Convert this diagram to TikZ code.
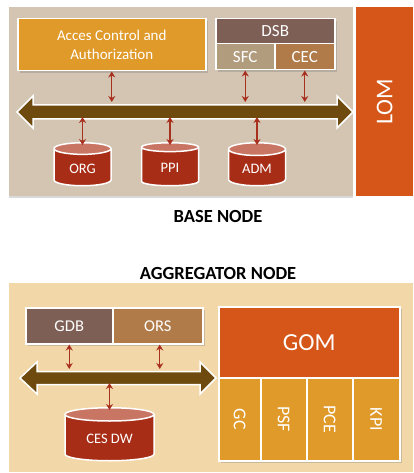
\documentclass[tikz,border=0pt]{standalone}
\usepackage{fontspec}
\setmainfont{Carlito}
\usetikzlibrary{arrows.meta,shapes.geometric,shadows}

\definecolor{topbg}{RGB}{211,197,178}
\definecolor{botbg}{RGB}{242,215,168}
\definecolor{rust}{RGB}{213,86,24}
\definecolor{amber}{RGB}{224,154,42}
\definecolor{mauve}{RGB}{125,95,85}
\definecolor{sand}{RGB}{178,156,126}
\definecolor{copper}{RGB}{176,123,72}
\definecolor{busbrown}{RGB}{110,74,14}
\definecolor{linkred}{RGB}{168,48,30}
\definecolor{cylbody}{RGB}{168,45,22}
\definecolor{cyltop}{RGB}{201,117,100}

\begin{document}
\begin{tikzpicture}[x=1pt,y=-1pt,
        box/.style={draw=white,line width=1.5pt,text=white,inner sep=0pt,anchor=north west,
            drop shadow={opacity=.35,shadow xshift=2pt,shadow yshift=-2pt}},
        panel/.style={inner sep=0pt,anchor=north west},
        link/.style={{Stealth[length=6pt,width=7pt]}-{Stealth[length=6pt,width=7pt]},draw=linkred,line width=1.3pt},
        db/.style={cylinder,shape border rotate=90,draw=white,line width=1.5pt,text=white,
            cylinder uses custom fill,cylinder body fill=cylbody,cylinder end fill=cyltop,anchor=north},
        title/.style={font=\fontsize{18.5}{20}\bfseries\selectfont}]
    \useasboundingbox (0,0) rectangle (413,473);
    % base node
    \node[panel,fill=topbg,minimum width=344pt,minimum height=189pt,
        drop shadow={opacity=.3,shadow xshift=0pt,shadow yshift=-2pt}] (base) at (9,7) {};
    \node[panel,fill=rust,minimum width=57pt,minimum height=189pt,text=white,
        font=\fontsize{24}{26}\selectfont] (lom) at (356,7) {\rotatebox{90}{LOM}};
    \node[box,fill=amber,minimum width=188pt,minimum height=52pt,align=center,
        font=\fontsize{15}{19}\selectfont] (acc) at (17,18) {Acces Control and\\Authorization};
    \node[box,fill=mauve,minimum width=119pt,minimum height=25pt,font=\fontsize{17}{18}\selectfont] (dsb) at (215,18) {DSB};
    \node[box,fill=sand,minimum width=59pt,minimum height=26pt,font=\fontsize{17}{18}\selectfont] (sfc) at (215,43) {SFC};
    \node[box,fill=copper,minimum width=60pt,minimum height=26pt,font=\fontsize{17}{18}\selectfont] (cec) at (274,43) {CEC};
    \draw[fill=busbrown,draw=white,line width=1.5pt] (17,112) -- (33,96) -- (33,105) -- (337,105) -- (337,96)
        -- (353,112) -- (337,128) -- (337,119) -- (33,119) -- (33,128) -- cycle;
    \coordinate (bustopA) at (0,102);
    \coordinate (busbotA) at (0,117);
    \node[db,aspect=0.35,minimum width=57pt,minimum height=43pt,font=\fontsize{14.5}{16}\selectfont] (org) at (82.5,142) {ORG};
    \node[db,aspect=0.35,minimum width=57pt,minimum height=43pt,font=\fontsize{14.5}{16}\selectfont] (ppi) at (170,142) {PPI};
    \node[db,aspect=0.35,minimum width=57pt,minimum height=43pt,font=\fontsize{14.5}{16}\selectfont] (adm) at (257,142) {ADM};
    \draw[link] (acc.south) -- (acc.south |- bustopA);
    \draw[link] (sfc.south) -- (sfc.south |- bustopA);
    \draw[link] (cec.south) -- (cec.south |- bustopA);
    \draw[link] (org.north |- busbotA) -- ([yshift=-3pt]org.north);
    \draw[link] (ppi.north |- busbotA) -- ([yshift=-3pt]ppi.north);
    \draw[link] (adm.north |- busbotA) -- ([yshift=-3pt]adm.north);
    \node[title] (basetitle) at (218,216) {BASE NODE};
    % aggregator node
    \node[title] (aggtitle) at (218,273) {AGGREGATOR NODE};
    \node[panel,fill=botbg,minimum width=404pt,minimum height=189pt] (agg) at (9,283) {};
    \node[box,fill=mauve,minimum width=87pt,minimum height=36pt,font=\fontsize{16.5}{18}\selectfont] (gdb) at (25,307) {GDB};
    \node[box,fill=copper,minimum width=90pt,minimum height=36pt,font=\fontsize{16.5}{18}\selectfont] (ors) at (112,307) {ORS};
    \draw[fill=busbrown,draw=white,line width=1.5pt] (20,378) -- (37,362) -- (37,371.5) -- (200,371.5) -- (200,362)
        -- (216,378) -- (200,394) -- (200,384.5) -- (37,384.5) -- (37,394) -- cycle;
    \coordinate (bustopB) at (0,369);
    \coordinate (busbotB) at (0,383);
    \node[db,aspect=0.25,minimum width=89pt,minimum height=53pt,font=\fontsize{14.5}{16}\selectfont] (ces) at (109.5,407) {CES DW};
    \draw[link] (gdb.south) -- (gdb.south |- bustopB);
    \draw[link] ([xshift=2pt]ors.south) -- ([xshift=2pt]ors.south |- bustopB);
    \draw[link] (ces.north |- busbotB) -- ([yshift=-3pt]ces.north);
    \node[box,fill=rust,minimum width=181pt,minimum height=71pt,font=\fontsize{24.5}{26}\selectfont] (gom) at (218,306) {GOM};
    \node[box,fill=amber,minimum width=42pt,minimum height=83pt,font=\fontsize{18}{20}\selectfont] (gc) at (218,377) {\rotatebox{-90}{GC}};
    \node[box,fill=amber,minimum width=46pt,minimum height=83pt,font=\fontsize{18}{20}\selectfont] (psf) at (260,377) {\rotatebox{-90}{PSF}};
    \node[box,fill=amber,minimum width=46pt,minimum height=83pt,font=\fontsize{18}{20}\selectfont] (pce) at (306,377) {\rotatebox{-90}{PCE}};
    \node[box,fill=amber,minimum width=47pt,minimum height=83pt,font=\fontsize{18}{20}\selectfont] (kpi) at (352,377) {\rotatebox{-90}{KPI}};
\end{tikzpicture}
\end{document}
